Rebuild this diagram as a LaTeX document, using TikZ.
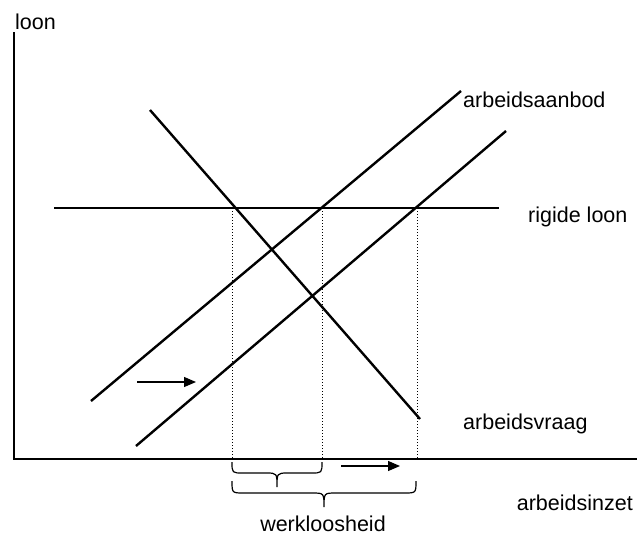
\documentclass[tikz,border=0pt]{standalone}
\usepackage{fontspec}
\setmainfont{Liberation Sans}
\usetikzlibrary{arrows.meta}
\begin{document}
\begin{tikzpicture}[x=1pt,y=-1pt,
  axis/.style={line width=2.7pt},
  curve/.style={line width=2.4pt},
  guide/.style={line width=1pt,dotted},
  shiftarrow/.style={line width=1.2pt,-{Triangle[length=12pt,width=10pt]}},
  brc/.style={line width=1.2pt},
  lbl/.style={inner sep=0pt,font=\fontsize{21.5}{25}\selectfont}]
\useasboundingbox (0,0) rectangle (637,539);
% axes
\coordinate (ytop) at (14,32);
\coordinate (o) at (14,459);
\coordinate (xend) at (637,459);
\draw[axis] (ytop) -- (o) -- (xend);
% curves
\coordinate (d1) at (150,110);
\coordinate (d2) at (420,419);
\coordinate (s1a) at (91,401);
\coordinate (s1b) at (461,91);
\coordinate (s2a) at (136,446);
\coordinate (s2b) at (506,131);
\coordinate (r1) at (54,208);
\coordinate (r2) at (499,208);
\draw[curve] (d1) -- (d2);
\draw[curve] (s1a) -- (s1b);
\draw[curve] (s2a) -- (s2b);
\draw[curve] (r1) -- (r2);
% dotted guides
\coordinate (g1t) at (232,208); \coordinate (g1b) at (232,459);
\coordinate (g2t) at (322,208); \coordinate (g2b) at (322,459);
\coordinate (g3t) at (417,208); \coordinate (g3b) at (417,459);
\draw[guide] (g1t) -- (g1b);
\draw[guide] (g2t) -- (g2b);
\draw[guide] (g3t) -- (g3b);
% shift arrows
\coordinate (a1s) at (137,382); \coordinate (a1e) at (196,382);
\coordinate (a2s) at (341,466); \coordinate (a2e) at (400,466);
\draw[shiftarrow] (a1s) -- (a1e);
\draw[shiftarrow] (a2s) -- (a2e);
% braces
\draw[brc] (232,462) .. controls (232,473) .. (243,473) -- (266,473)
  .. controls (277,473) .. (277,487) .. controls (277,473) .. (288,473)
  -- (311,473) .. controls (322,473) .. (322,462);
\draw[brc] (232,481) .. controls (232,493) .. (244,493) -- (312,493)
  .. controls (324,493) .. (324,507) .. controls (324,493) .. (336,493)
  -- (404,493) .. controls (416,493) .. (416,481);
% labels
\node[lbl,anchor=base west] (loon) at (15,29) {loon};
\node[lbl,anchor=base west] (aanbod) at (463,107) {arbeidsaanbod};
\node[lbl,anchor=base west] (rigide) at (528,222) {rigide loon};
\node[lbl,anchor=base west] (vraag) at (463,429) {arbeidsvraag};
\node[lbl,anchor=base east] (inzet) at (633,510) {arbeidsinzet};
\node[lbl,anchor=base] (werk) at (323,531) {werkloosheid};
\end{tikzpicture}
\end{document}
